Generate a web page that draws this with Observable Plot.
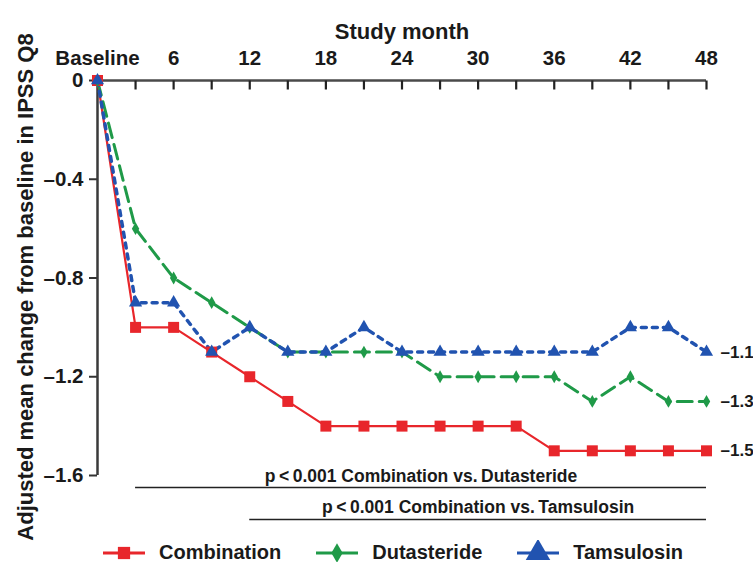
<!DOCTYPE html>
<html><head><meta charset="utf-8">
<script src="https://cdn.jsdelivr.net/npm/d3@7"></script>
<script src="https://cdn.jsdelivr.net/npm/@observablehq/plot@0.6"></script>
<style>
body{margin:0;background:#fff;font-family:"Liberation Sans",Arial,sans-serif;color:#1a1a1a;}
#legend{position:relative;height:35px;display:flex;align-items:center;padding-left:103px;font-weight:bold;font-size:20px;}
.item{display:flex;align-items:center;margin-right:35px;}
.item svg{margin-right:14px;}
</style></head><body><div id="chart"></div><div id="legend"></div>
<script>
const months = [0,3,6,9,12,15,18,21,24,27,30,33,36,39,42,45,48];
const combination = [0,-1.0,-1.0,-1.1,-1.2,-1.3,-1.4,-1.4,-1.4,-1.4,-1.4,-1.4,-1.5,-1.5,-1.5,-1.5,-1.5];
const dutasteride = [0,-0.6,-0.8,-0.9,-1.0,-1.1,-1.1,-1.1,-1.1,-1.2,-1.2,-1.2,-1.2,-1.3,-1.2,-1.3,-1.3];
const tamsulosin  = [0,-0.9,-0.9,-1.1,-1.0,-1.1,-1.1,-1.0,-1.1,-1.1,-1.1,-1.1,-1.1,-1.1,-1.0,-1.0,-1.1];
const seriesNames = ["Combination","Dutasteride","Tamsulosin"];
const xTickValues = [0,6,12,18,24,30,36,42,48];
const xTickLabels = ["Baseline","6","12","18","24","30","36","42","48"];
const yTicks = [0,-0.4,-0.8,-1.2,-1.6];
const yTickLabels = ["0","\u20130.4","\u20130.8","\u20131.2","\u20131.6"];
const xTitle = "Study month";
const yTitle = "Adjusted mean change from baseline in IPSS Q8";
const pFrom = [3,12];
const pTo = [48,48];
const pText = ["p\u2009<\u20090.001 Combination vs.\u2009Dutasteride","p\u2009<\u20090.001 Combination vs.\u2009Tamsulosin"];

const seriesValues = [combination, dutasteride, tamsulosin];
const colors = ["#e8262b","#1f9a48","#2153b0"];
const widths = [2.2,3,3.5];
const dashes = [null,"15,7","5,6"];
const symbols = ["square","diamond","triangle"];
const radii = [6.2,3.9,4.9];

const W = 753, H = 535, mT = 80, mL = 97, mR = 47, mB = 60;
const rows = seriesNames.flatMap((name,i)=>seriesValues[i].map((v,j)=>({series:name, month:months[j], value:v})));
const endRows = seriesNames.map((name,i)=>({series:name, month:months[months.length-1], value:seriesValues[i][months.length-1]}));
const pRows = pText.map((t,i)=>({text:t, from:pFrom[i], to:pTo[i]}));
const yMin = d3.min(yTicks), yMax = d3.max(yTicks);
const xMin = d3.min(months);
const ink = "#1a1a1a";
const minorTickLen = 9;
const downTick = {draw(ctx){ ctx.moveTo(0,0); ctx.lineTo(0,minorTickLen); }};

const marks = [
  Plot.axisX(xTickValues,{anchor:"top", tickSize:0, tickPadding:16, tickFormat:d=>xTickLabels[xTickValues.indexOf(d)], fontSize:20.5, fill:ink, label:null}),
  Plot.axisY(yTicks,{anchor:"left", tickSize:8, tickPadding:6, strokeWidth:2, stroke:"#333", tickFormat:d=>yTickLabels[yTicks.indexOf(d)], fontSize:20.5, fill:ink, label:null}),
  Plot.ruleY([yMax],{stroke:"#4a4a4a", strokeWidth:2.5}),
  Plot.ruleX([xMin],{stroke:"#3a3a3a", strokeWidth:2.5}),
  Plot.dot(months.filter(m=>m>0),{x:d=>d, y:()=>yMax, symbol:downTick, r:4, fill:"none", stroke:"#222", strokeWidth:2.2}),
  Plot.text([xTitle],{frameAnchor:"top", dy:-57, fontSize:22, fontWeight:"bold", fill:ink}),
  Plot.text([yTitle],{frameAnchor:"left", textAnchor:"middle", rotate:-90, dx:-72, dy:9, fontSize:22, fontWeight:"bold", fill:ink, style:"letter-spacing:1px"}),
];
seriesNames.forEach((name,i)=>{
  const d = rows.filter(r=>r.series===name);
  marks.push(Plot.line(d,{x:"month", y:"value", stroke:colors[i], strokeWidth:widths[i], strokeDasharray:dashes[i]}));
});
seriesNames.forEach((name,i)=>{
  const d = rows.filter(r=>r.series===name);
  marks.push(Plot.dot(d,{x:"month", y:"value", symbol:()=>symbols[i], r:radii[i], fill:colors[i], stroke:"none"}));
});
marks.push(Plot.text(endRows,{x:"month", y:"value", text:d=>"\u2013"+Math.abs(d.value).toFixed(1), dx:14, textAnchor:"start", fontSize:17, fontWeight:"bold", fill:ink}));
pRows.forEach((p,i)=>{
  marks.push(Plot.ruleY([p],{x1:"from", x2:"to", y:()=>yMin, dy:12+i*32, stroke:"#222", strokeWidth:1.5}));
  marks.push(Plot.text([p],{x:d=>(d.from+d.to)/2, y:()=>yMin, dy:1+i*31, text:"text", fontSize:17.5, fontWeight:"bold", fill:ink}));
});

const chart = Plot.plot({
  width:W, height:H, marginTop:mT, marginLeft:mL, marginRight:mR, marginBottom:mB,
  style:{fontFamily:"'Liberation Sans', Arial, sans-serif", fontWeight:"bold", overflow:"visible", background:"#fff"},
  x:{domain:[0,48]}, y:{domain:[yMin,yMax]},
  marks
});
document.getElementById("chart").appendChild(chart);

// legend
const leg = document.getElementById("legend");
seriesNames.forEach((name,i)=>{
  const item = document.createElement("div"); item.className="item";
  const s = d3.create("svg").attr("width",42).attr("height",26);
  s.append("line").attr("x1",0).attr("x2",42).attr("y1",13).attr("y2",13).attr("stroke",colors[i]).attr("stroke-width",3);
  const symType = [d3.symbolSquare,d3.symbolDiamond,d3.symbolTriangle][i];
  const sizes = [150,110,260];
  s.append("path").attr("d",d3.symbol(symType,sizes[i])()).attr("transform","translate(21,13)").attr("fill",colors[i]);
  item.appendChild(s.node());
  const t = document.createElement("span"); t.textContent=name; item.appendChild(t);
  leg.appendChild(item);
});
</script></body></html>
